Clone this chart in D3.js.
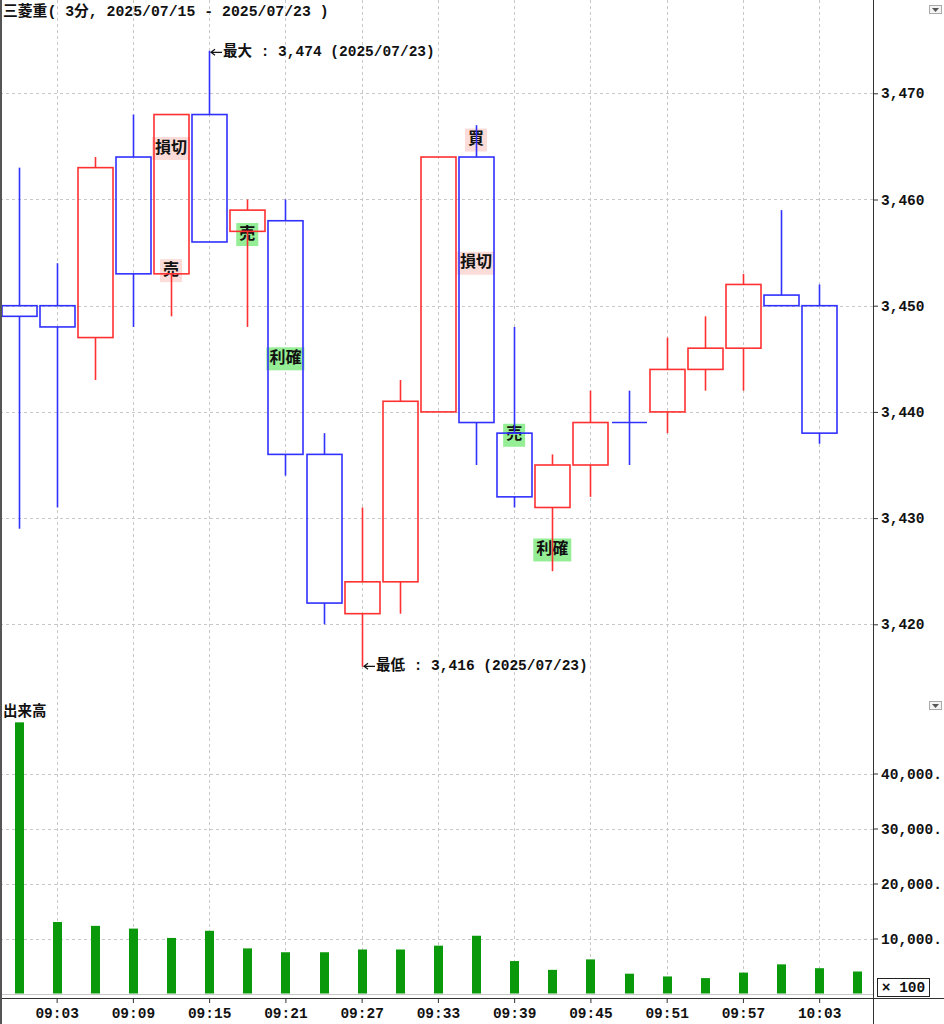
<!DOCTYPE html>
<html><head><meta charset="utf-8">
<script src="https://cdn.jsdelivr.net/npm/d3@7"></script>
<style>body{margin:0;background:#fff;overflow:hidden}svg{display:block}</style>
</head><body><svg id="c" width="944" height="1024"></svg>
<script>
// ---- data ----
const times = ["09:00","09:03","09:06","09:09","09:12","09:15","09:18","09:21","09:24","09:27","09:30","09:33","09:36","09:39","09:42","09:45","09:48","09:51","09:54","09:57","10:00","10:03","10:06"];
const openP  = [3450,3450,3447,3464,3453,3468,3457,3458,3436,3421,3424,3440,3464,3438,3431,3435,3439,3440,3444,3446,3451,3450];
const highP  = [3463,3454,3464,3468,3468,3474,3460,3460,3438,3431,3443,3464,3467,3448,3436,3442,3442,3447,3449,3453,3459,3452];
const lowP   = [3429,3431,3443,3448,3449,3456,3448,3434,3420,3416,3421,3440,3435,3431,3425,3432,3435,3438,3442,3442,3450,3437];
const closeP = [3449,3448,3463,3453,3468,3456,3459,3436,3422,3424,3441,3464,3439,3432,3435,3439,3439,3444,3446,3452,3450,3438];
const volume = [49300,13000,12300,11800,10100,11400,8200,7500,7500,8000,8000,8700,10500,5900,4300,6200,3600,3100,2800,3800,5300,4600,4000];
const priceTicks = [3420,3430,3440,3450,3460,3470];
const volumeTicks = [10000,20000,30000,40000];
const timeTickLabels = ["09:03","09:09","09:15","09:21","09:27","09:33","09:39","09:45","09:51","09:57","10:03"];
const signalIndex = [4,4,6,7,12,12,13,14];
const signalPrice = [3464.8,3453.3,3456.7,3445,3465.6,3454,3437.8,3427];
const signalText  = ["損切","売","売","利確","買","損切","売","利確"];
const signalKind  = ["p","p","g","g","p","p","g","g"];
const title = "三菱重( 3分, 2025/07/15 - 2025/07/23 )";
const dateLabel = "2025/07/23";

// ---- layout ----
const W = 944, H = 1024, axisX = 873;
const FONT = "'Liberation Mono','Noto Sans CJK JP',monospace";
const svg = d3.select("#c");
const x = d3.scalePoint().domain(times).range([18.5, 857.3]);
const y = d3.scaleLinear().domain([3420, 3470]).range([624.3, 93.3]);
const yv = d3.scaleLinear().domain([0, 40000]).range([993.5, 773.5]);
const fmt = d3.format(",");

// grid
const grid = svg.append("g").attr("stroke", "#c8c8c8").attr("stroke-dasharray", "3,3").attr("stroke-width", 1);
timeTickLabels.forEach(t => grid.append("line").attr("x1", Math.round(x(t)) + .5).attr("x2", Math.round(x(t)) + .5).attr("y1", 0).attr("y2", 994));
priceTicks.forEach(v => grid.append("line").attr("x1", 0).attr("x2", axisX).attr("y1", Math.round(y(v)) + .5).attr("y2", Math.round(y(v)) + .5));
volumeTicks.forEach(v => grid.append("line").attr("x1", 0).attr("x2", axisX).attr("y1", Math.round(yv(v)) + .5).attr("y2", Math.round(yv(v)) + .5));

// signal labels (under candles)
const sig = svg.append("g");
signalIndex.forEach((ci, k) => {
  const cx = x(times[ci]), cy = y(signalPrice[k]);
  const g = sig.append("g");
  const r = g.append("rect").attr("fill", signalKind[k] === "p" ? "#fbdcd8" : "#95ee95");
  const t = g.append("text").attr("x", cx).attr("y", cy).attr("text-anchor", "middle").attr("dominant-baseline", "central")
    .attr("font-family", FONT).attr("font-weight", "bold").attr("font-size", 16).attr("fill", "#111").text(signalText[k]);
  const bb = t.node().getBBox();
  r.attr("x", cx - bb.width / 2 - 3).attr("y", cy - 11.5).attr("width", bb.width + 6).attr("height", 23);
});

// candles
const candles = svg.append("g");
openP.forEach((o, i) => {
  const c = closeP[i];
  const cx = Math.round(x(times[i])) + .5;
  const col = c > o ? "#ff3030" : "#3030ff";
  const g = candles.append("g").attr("stroke", col).attr("stroke-width", 1.6).attr("fill", "none");
  const top = Math.min(y(o), y(c)), bot = Math.max(y(o), y(c));
  g.append("line").attr("x1", cx).attr("x2", cx).attr("y1", y(highP[i])).attr("y2", top);
  g.append("line").attr("x1", cx).attr("x2", cx).attr("y1", bot).attr("y2", y(lowP[i]));
  if (bot - top < 1) {
    g.append("line").attr("x1", cx - 17.5).attr("x2", cx + 17.5).attr("y1", top).attr("y2", top);
  } else {
    g.append("rect").attr("x", cx - 17.5).attr("y", top).attr("width", 35).attr("height", bot - top);
  }
});

// max / min annotations with arrow
function note(px, py, label) {
  const ax = Math.round(px) + 1;
  svg.append("path").attr("d", `M${ax + 1},${py}H${ax + 12}M${ax + 5},${py - 3}L${ax + 1},${py}L${ax + 5},${py + 3}`)
    .attr("stroke", "#111").attr("stroke-width", 1.2).attr("fill", "none");
  svg.append("text").attr("x", ax + 13).attr("y", py).attr("dominant-baseline", "central")
    .attr("font-family", FONT).attr("font-weight", "bold").attr("font-size", 14.5).attr("fill", "#111").text(label);
}
const iMax = d3.maxIndex(highP), iMin = d3.minIndex(lowP);
note(x(times[iMax]), y(highP[iMax]) + 1.5, "最大 : " + fmt(highP[iMax]) + " (" + dateLabel + ")");
note(x(times[iMin]), y(lowP[iMin]) - 0.5, "最低 : " + fmt(lowP[iMin]) + " (" + dateLabel + ")");

// volume bars
svg.append("g").selectAll("rect").data(volume).join("rect")
  .attr("x", (d, i) => Math.round(x(times[i])) - 4).attr("width", 9)
  .attr("y", d => yv(d)).attr("height", d => yv(0) - yv(d)).attr("fill", "#0a990a");
svg.append("line").attr("x1", 0).attr("x2", axisX).attr("y1", 994.5).attr("y2", 994.5).attr("stroke", "#c8c8c8");

// right price axis
const pa = d3.axisRight(y).tickValues(priceTicks).tickSize(5).tickPadding(3).tickFormat(d => fmt(d));
const pag = svg.append("g").attr("transform", `translate(${axisX},0)`).call(pa);
const va = d3.axisRight(yv).tickValues(volumeTicks).tickSize(5).tickPadding(3).tickFormat(d => fmt(d) + ".");
const vag = svg.append("g").attr("transform", `translate(${axisX},0)`).call(va);
[pag, vag].forEach(g => {
  g.select(".domain").remove();
  g.selectAll("line").attr("stroke", "#333");
  g.selectAll("text").attr("font-family", FONT).attr("font-weight", "bold").attr("font-size", 14.5).attr("fill", "#111");
});

// time axis
const ta = d3.axisBottom(x).tickValues(timeTickLabels).tickSize(5).tickPadding(5);
const tag = svg.append("g").attr("transform", "translate(0,998)").call(ta);
tag.select(".domain").remove();
tag.selectAll("line").attr("stroke", "#333");
tag.selectAll("text").attr("font-family", FONT).attr("font-weight", "bold").attr("font-size", 14.5).attr("fill", "#111");
svg.append("line").attr("x1", 0).attr("x2", W).attr("y1", 998.5).attr("y2", 998.5).attr("stroke", "#333");

// frame lines
svg.append("line").attr("x1", axisX + .5).attr("x2", axisX + .5).attr("y1", 0).attr("y2", H).attr("stroke", "#333");
svg.append("rect").attr("x", 0).attr("y", 0).attr("width", 2).attr("height", H).attr("fill", "#555");

// title and panel label
svg.append("text").attr("x", 3).attr("y", 12).attr("dominant-baseline", "central")
  .attr("font-family", FONT).attr("font-weight", "bold").attr("font-size", 14.8).attr("fill", "#111").text(title);
svg.append("text").attr("x", 3).attr("y", 712).attr("dominant-baseline", "central")
  .attr("font-family", FONT).attr("font-weight", "bold").attr("font-size", 14.5).attr("fill", "#111").text("出来高");

// x100 box
svg.append("rect").attr("x", 877.5).attr("y", 978.5).attr("width", 52).attr("height", 18).attr("fill", "#fff").attr("stroke", "#222");
svg.append("text").attr("x", 903.5).attr("y", 988).attr("text-anchor", "middle").attr("dominant-baseline", "central")
  .attr("font-family", FONT).attr("font-weight", "bold").attr("font-size", 14.5).attr("fill", "#111").text("×  100");

// dropdown icons
[5, 701].forEach(t => {
  svg.append("rect").attr("x", 929.5).attr("y", t + .5).attr("width", 12).attr("height", 8).attr("fill", "#f4f4f4").attr("stroke", "#aaa");
  svg.append("path").attr("d", `M932,${t + 3}L939,${t + 3}L935.5,${t + 7}Z`).attr("fill", "#555");
});
</script></body></html>
